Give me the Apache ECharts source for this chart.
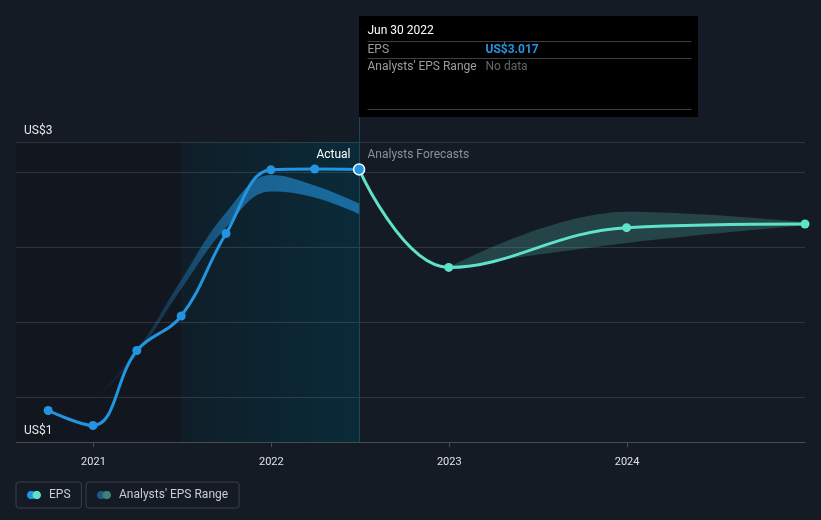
<!DOCTYPE html>
<html><head><meta charset="utf-8">
<script src="https://cdn.jsdelivr.net/npm/echarts@6/dist/echarts.min.js"></script>
<style>html,body{margin:0;padding:0;background:#151b24;}#c{width:821px;height:520px;}</style>
</head><body><div id="c"></div>
<script>
// ---- data ----
const actualDates = ['2020-09-30','2020-12-31','2021-03-31','2021-06-30','2021-09-30','2021-12-31','2022-03-31','2022-06-30'];
const actualEps = [1.41, 1.31, 1.81, 2.04, 2.59, 3.015, 3.02, 3.017];
const forecastDates = ['2022-06-30','2022-12-31','2023-12-31','2024-12-31'];
const forecastEps = [3.017, 2.364, 2.629, 2.653];
const rangeDates = ['2022-12-31','2023-12-31','2024-12-31'];
const rangeLow = [2.364, 2.527, 2.645];
const rangeHigh = [2.364, 2.735, 2.665];
const pastRangeDates = ['2020-12-31','2021-03-31','2021-06-30','2021-09-30','2021-12-31','2022-03-31','2022-06-30'];
const pastRangeLow = [1.46, 1.78, 2.22, 2.63, 2.87, 2.83, 2.72];
const pastRangeHigh = [1.47, 1.81, 2.28, 2.73, 2.98, 2.91, 2.79];
const xTickDates = ['2021-01-01','2022-01-01','2023-01-01','2024-01-01'];
const yLabelValues = [1.2, 3.2];
const yLabelTexts = ['US$1', 'US$3'];
const gridValues = [1.5, 2.0, 2.5, 3.0, 3.2];
const xMin = '2020-07-26', xMax = '2024-12-31', yMin = 1.2, yMax = 3.2;
const splitDate = '2021-06-30';
const tooltipDate = '2022-06-30';
const tooltipEps = 3.017;

const P = d => Date.UTC(+d.slice(0, 4), +d.slice(5, 7) - 1, +d.slice(8, 10));
const FONT = 'Roboto, "Noto Sans", sans-serif';
const BLUE = '#2394df', TEAL = '#5ee2c9';

const chart = echarts.init(document.getElementById('c'), null, {renderer: 'canvas'});

function iconSvg(c1, c2) {
  const s = "<svg xmlns='http://www.w3.org/2000/svg' width='28' height='17'><circle cx='8.5' cy='8.5' r='8.5' fill='" + c1 + "'/><circle cx='19.5' cy='8.5' r='8.5' fill='" + c2 + "'/></svg>";
  return 'image://data:image/svg+xml;charset=utf-8,' + encodeURIComponent(s);
}
const pair = (ds, vs) => ds.map((d, i) => [P(d), vs[i]]);
const diff = (ds, lo, hi) => ds.map((d, i) => [P(d), +(hi[i] - lo[i]).toFixed(4)]);

const legendCommon = {
  top: 482, orient: 'horizontal', borderColor: '#3a3f48', borderWidth: 1, borderRadius: 3,
  itemWidth: 14, itemHeight: 8.5, padding: [7, 11, 7, 11],
  textStyle: {color: '#c9ccd1', fontSize: 12, fontFamily: FONT, padding: [0, 0, 0, 3]},
  selectedMode: false
};

const bandBase = {type: 'line', smooth: 0.4, symbol: 'none', z: 2, xAxisIndex: 1, lineStyle: {opacity: 0, width: 0}, silent: true};

chart.setOption({
  animation: false,
  backgroundColor: '#151b24',
  grid: {left: 16, right: 16, top: 142, bottom: 78, containLabel: false},
  legend: [
    Object.assign({}, legendCommon, {left: 16, data: [{name: 'EPS', icon: iconSvg(BLUE, TEAL)}]}),
    Object.assign({}, legendCommon, {left: 86, data: [{name: "Analysts' EPS Range", icon: iconSvg('#1d5b86', '#3f807b')}]})
  ],
  xAxis: [{
    type: 'value', min: P(xMin), max: P(xMax),
    splitLine: {show: false},
    axisLine: {show: true, lineStyle: {color: '#464b54', width: 1}},
    axisTick: {show: true, length: 5, customValues: xTickDates.map(P), lineStyle: {color: '#464b54'}},
    axisLabel: {
      customValues: xTickDates.map(P), margin: 15, color: '#dfe2e6', fontSize: 11, fontFamily: FONT,
      formatter: v => String(new Date(v).getUTCFullYear())
    }
  }, {
    // hidden time axis with identical extent, used by the stacked range bands
    type: 'time', min: P(xMin), max: P(xMax), show: false
  }],
  yAxis: {
    type: 'value', min: yMin, max: yMax,
    splitLine: {show: false}, axisLine: {show: false}, axisTick: {show: false},
    axisLabel: {
      customValues: yLabelValues, inside: true, margin: 8, verticalAlign: 'bottom',
      padding: [0, 0, 5, 0], color: '#e8e8e8', fontSize: 12, fontFamily: FONT,
      formatter: v => { const i = yLabelValues.findIndex(x => Math.abs(x - v) < 1e-6); return i >= 0 ? yLabelTexts[i] : ''; }
    }
  },
  series: [
    {
      name: 'bg', type: 'line', data: [], silent: true,
      markArea: {
        silent: true, z: 0,
        data: [
          [{xAxis: P(xMin), itemStyle: {color: 'rgba(0,0,0,0.13)'}}, {xAxis: P(splitDate)}],
          [{xAxis: P(splitDate), itemStyle: {color: new echarts.graphic.LinearGradient(0, 0, 1, 0, [
            {offset: 0, color: '#0f1e28'}, {offset: 1, color: '#0a2b39'}])}}, {xAxis: P(tooltipDate)}]
        ]
      },
      markLine: {
        silent: true, z: 1, symbol: 'none', label: {show: false},
        lineStyle: {color: 'rgba(255,255,255,0.12)', type: 'solid', width: 1},
        data: gridValues.map(v => ({yAxis: v}))
      }
    },
    Object.assign({}, bandBase, {name: "Analysts' EPS Range", stack: 'past', data: pair(pastRangeDates, pastRangeLow)}),
    Object.assign({}, bandBase, {name: "Analysts' EPS Range", stack: 'past',
      areaStyle: {opacity: 1, color: new echarts.graphic.LinearGradient(0, 0, 1, 0, [
        {offset: 0, color: 'rgba(35,148,223,0)'},
        {offset: 0.3, color: 'rgba(35,148,223,0.3)'},
        {offset: 0.55, color: 'rgba(35,148,223,0.55)'},
        {offset: 1, color: 'rgba(35,148,223,0.62)'}])},
      data: diff(pastRangeDates, pastRangeLow, pastRangeHigh)}),
    Object.assign({}, bandBase, {name: "Analysts' EPS Range", stack: 'fut', data: pair(rangeDates, rangeLow)}),
    Object.assign({}, bandBase, {name: "Analysts' EPS Range", stack: 'fut',
      areaStyle: {opacity: 1, color: 'rgba(88,190,175,0.25)'},
      data: diff(rangeDates, rangeLow, rangeHigh)}),
    {
      name: 'EPS', type: 'line', smooth: 0.4, z: 3, symbol: 'circle', symbolSize: 9,
      lineStyle: {color: TEAL, width: 3}, itemStyle: {color: TEAL},
      data: pair(forecastDates, forecastEps).map((p, i) => i === 0 ? {value: p, symbol: 'none'} : p)
    },
    {
      name: 'EPS', type: 'line', smooth: 0.4, z: 4, symbol: 'circle', symbolSize: 9,
      lineStyle: {color: BLUE, width: 3}, itemStyle: {color: BLUE},
      data: pair(actualDates, actualEps).map((p, i) => i === actualDates.length - 1
        ? {value: p, symbolSize: 11, itemStyle: {color: BLUE, borderColor: '#ffffff', borderWidth: 1.5}} : p)
    }
  ]
});

// tooltip-like annotation anchored at the selected point
const pt = chart.convertToPixel({gridIndex: 0}, [P(tooltipDate), tooltipEps]);
const bottomPx = chart.convertToPixel({gridIndex: 0}, [P(tooltipDate), yMin])[1];
const topPx = chart.convertToPixel({gridIndex: 0}, [P(tooltipDate), yMax])[1];
const px = Math.round(pt[0]) + 0.5;
const months = ['Jan','Feb','Mar','Apr','May','Jun','Jul','Aug','Sep','Oct','Nov','Dec'];
const td = new Date(P(tooltipDate));
const tdText = months[td.getUTCMonth()] + ' ' + String(td.getUTCDate()).padStart(2, '0') + ' ' + td.getUTCFullYear();
const tipTop = 16, tipH = 101, tipW = 339;
const t = (x, y, text, fill, font) => ({type: 'text', x: x, y: y, z: 10,
  style: {text: text, fill: fill, font: font || ('12px ' + FONT), textVerticalAlign: 'middle', textAlign: 'left'}});
const sep = y => ({type: 'line', z: 10, shape: {x1: px + 8, y1: y + 0.5, x2: px + 332, y2: y + 0.5}, style: {stroke: '#3d3f44', lineWidth: 1}});

chart.setOption({
  graphic: [
    {type: 'line', z: 1, shape: {x1: px, y1: tipTop + tipH, x2: px, y2: bottomPx}, style: {stroke: '#1d4655', lineWidth: 1}},
    {type: 'rect', z: 9, shape: {x: px - 0.5, y: tipTop, width: tipW, height: tipH}, style: {fill: '#000000'}},
    t(px + 8, 31, tdText, '#ffffff'),
    sep(41),
    t(px + 8, 49.5, 'EPS', '#9a9da3'),
    t(px + 126, 49.5, 'US$' + tooltipEps.toFixed(3), BLUE, 'bold 12px ' + FONT),
    sep(58),
    t(px + 8, 66.5, "Analysts' EPS Range", '#9a9da3'),
    t(px + 126, 66.5, 'No data', '#63666c'),
    sep(109),
    {type: 'text', x: px - 9, y: topPx + 13, z: 10, style: {text: 'Actual', fill: '#ffffff', font: '12px ' + FONT, textAlign: 'right', textVerticalAlign: 'middle'}},
    {type: 'text', x: px + 8, y: topPx + 13, z: 10, style: {text: 'Analysts Forecasts', fill: '#8b9099', font: '12px ' + FONT, textAlign: 'left', textVerticalAlign: 'middle'}}
  ]
});
</script></body></html>
